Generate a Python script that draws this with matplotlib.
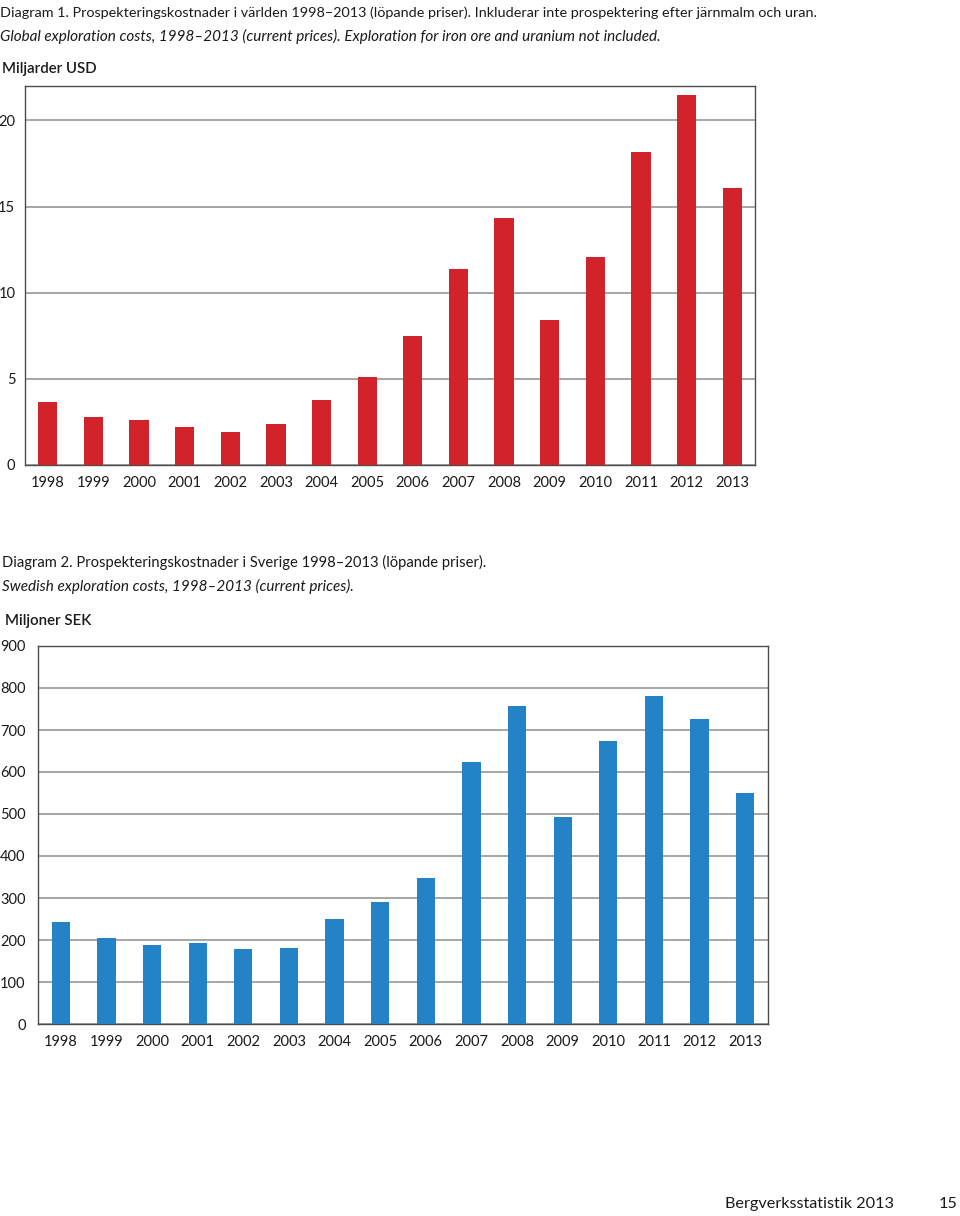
import matplotlib
matplotlib.use("Agg")
import matplotlib.pyplot as plt
import numpy as np

plt.rcParams['font.family'] = ['Lato', 'DejaVu Sans']

years = [str(y) for y in range(1998, 2014)]
world_busd = [3.68, 2.77, 2.6, 2.19, 1.9, 2.38, 3.78, 5.08, 7.5, 11.35, 14.36, 8.39, 12.05, 18.18, 21.45, 16.06]
sweden_msek = [244, 204, 188, 192, 178, 182, 250, 290, 348, 624, 758, 493, 673, 780, 726, 551]

title1 = "Diagram 1. Prospekteringskostnader i världen 1998–2013 (löpande priser). Inkluderar inte prospektering efter järnmalm och uran."
sub1 = "Global exploration costs, 1998–2013 (current prices). Exploration for iron ore and uranium not included."
unit1 = "Miljarder USD"
title2 = "Diagram 2. Prospekteringskostnader i Sverige 1998–2013 (löpande priser)."
sub2 = "Swedish exploration costs, 1998–2013 (current prices)."
unit2 = "Miljoner SEK"

W, H = 960, 1216
fig = plt.figure(figsize=(W / 100, H / 100), dpi=100)


def fx(x):
    return x / W


def fy(y):
    return 1 - y / H


def make_axes(l, t, r, b):
    return fig.add_axes([fx(l), fy(b), (r - l) / W, (b - t) / H])


RED = "#d2232a"
BLUE = "#2383c6"
GRID = "#8e8e8e"
SPINE = "#4d4d4d"
TXT = "#1a1a1a"


def style(ax, ylim, yticks, ytick_pad):
    ax.set_xlim(-0.5, len(years) - 0.5)
    ax.set_ylim(*ylim)
    ax.set_yticks(yticks)
    ax.set_yticklabels([str(v) for v in yticks])
    ax.set_xticks(range(len(years)))
    ax.set_xticklabels(years)
    ax.yaxis.grid(True, color=GRID, linewidth=1.1)
    ax.set_axisbelow(True)
    for s in ax.spines.values():
        s.set_color(SPINE)
        s.set_linewidth(1.0)
    ax.tick_params(axis='both', length=0, labelsize=10.5, colors=TXT)
    ax.tick_params(axis='x', pad=8)
    ax.tick_params(axis='y', pad=ytick_pad)


# Chart 1
ax1 = make_axes(25, 86, 755, 465)
ax1.bar(range(len(years)), world_busd, width=0.42, color=RED, zorder=3)
style(ax1, (0, 22), [0, 5, 10, 15, 20], 7)

fig.text(fx(0), fy(13), title1, fontsize=10.4, color=TXT, va='center', ha='left')
fig.text(fx(0), fy(36), sub1, fontsize=11, color=TXT, va='center', ha='left', style='italic')
fig.text(fx(2), fy(69), unit1, fontsize=10.8, color=TXT, va='center', ha='left', fontweight='semibold')

# Chart 2
ax2 = make_axes(38, 646, 768, 1024)
ax2.bar(range(len(years)), sweden_msek, width=0.4, color=BLUE, zorder=3)
style(ax2, (0, 900), list(range(0, 901, 100)), 9)

fig.text(fx(2), fy(562), title2, fontsize=10.6, color=TXT, va='center', ha='left')
fig.text(fx(2), fy(586), sub2, fontsize=11, color=TXT, va='center', ha='left', style='italic')
fig.text(fx(5), fy(621), unit2, fontsize=10.8, color=TXT, va='center', ha='left', fontweight='semibold')

# Footer
fig.text(fx(725), fy(1204), "Bergverksstatistik 2013", fontsize=11.7, color=TXT, va='center', ha='left')
fig.text(fx(958), fy(1204), "15", fontsize=11.7, color=TXT, va='center', ha='right')

fig.savefig("out.png", dpi=100)
